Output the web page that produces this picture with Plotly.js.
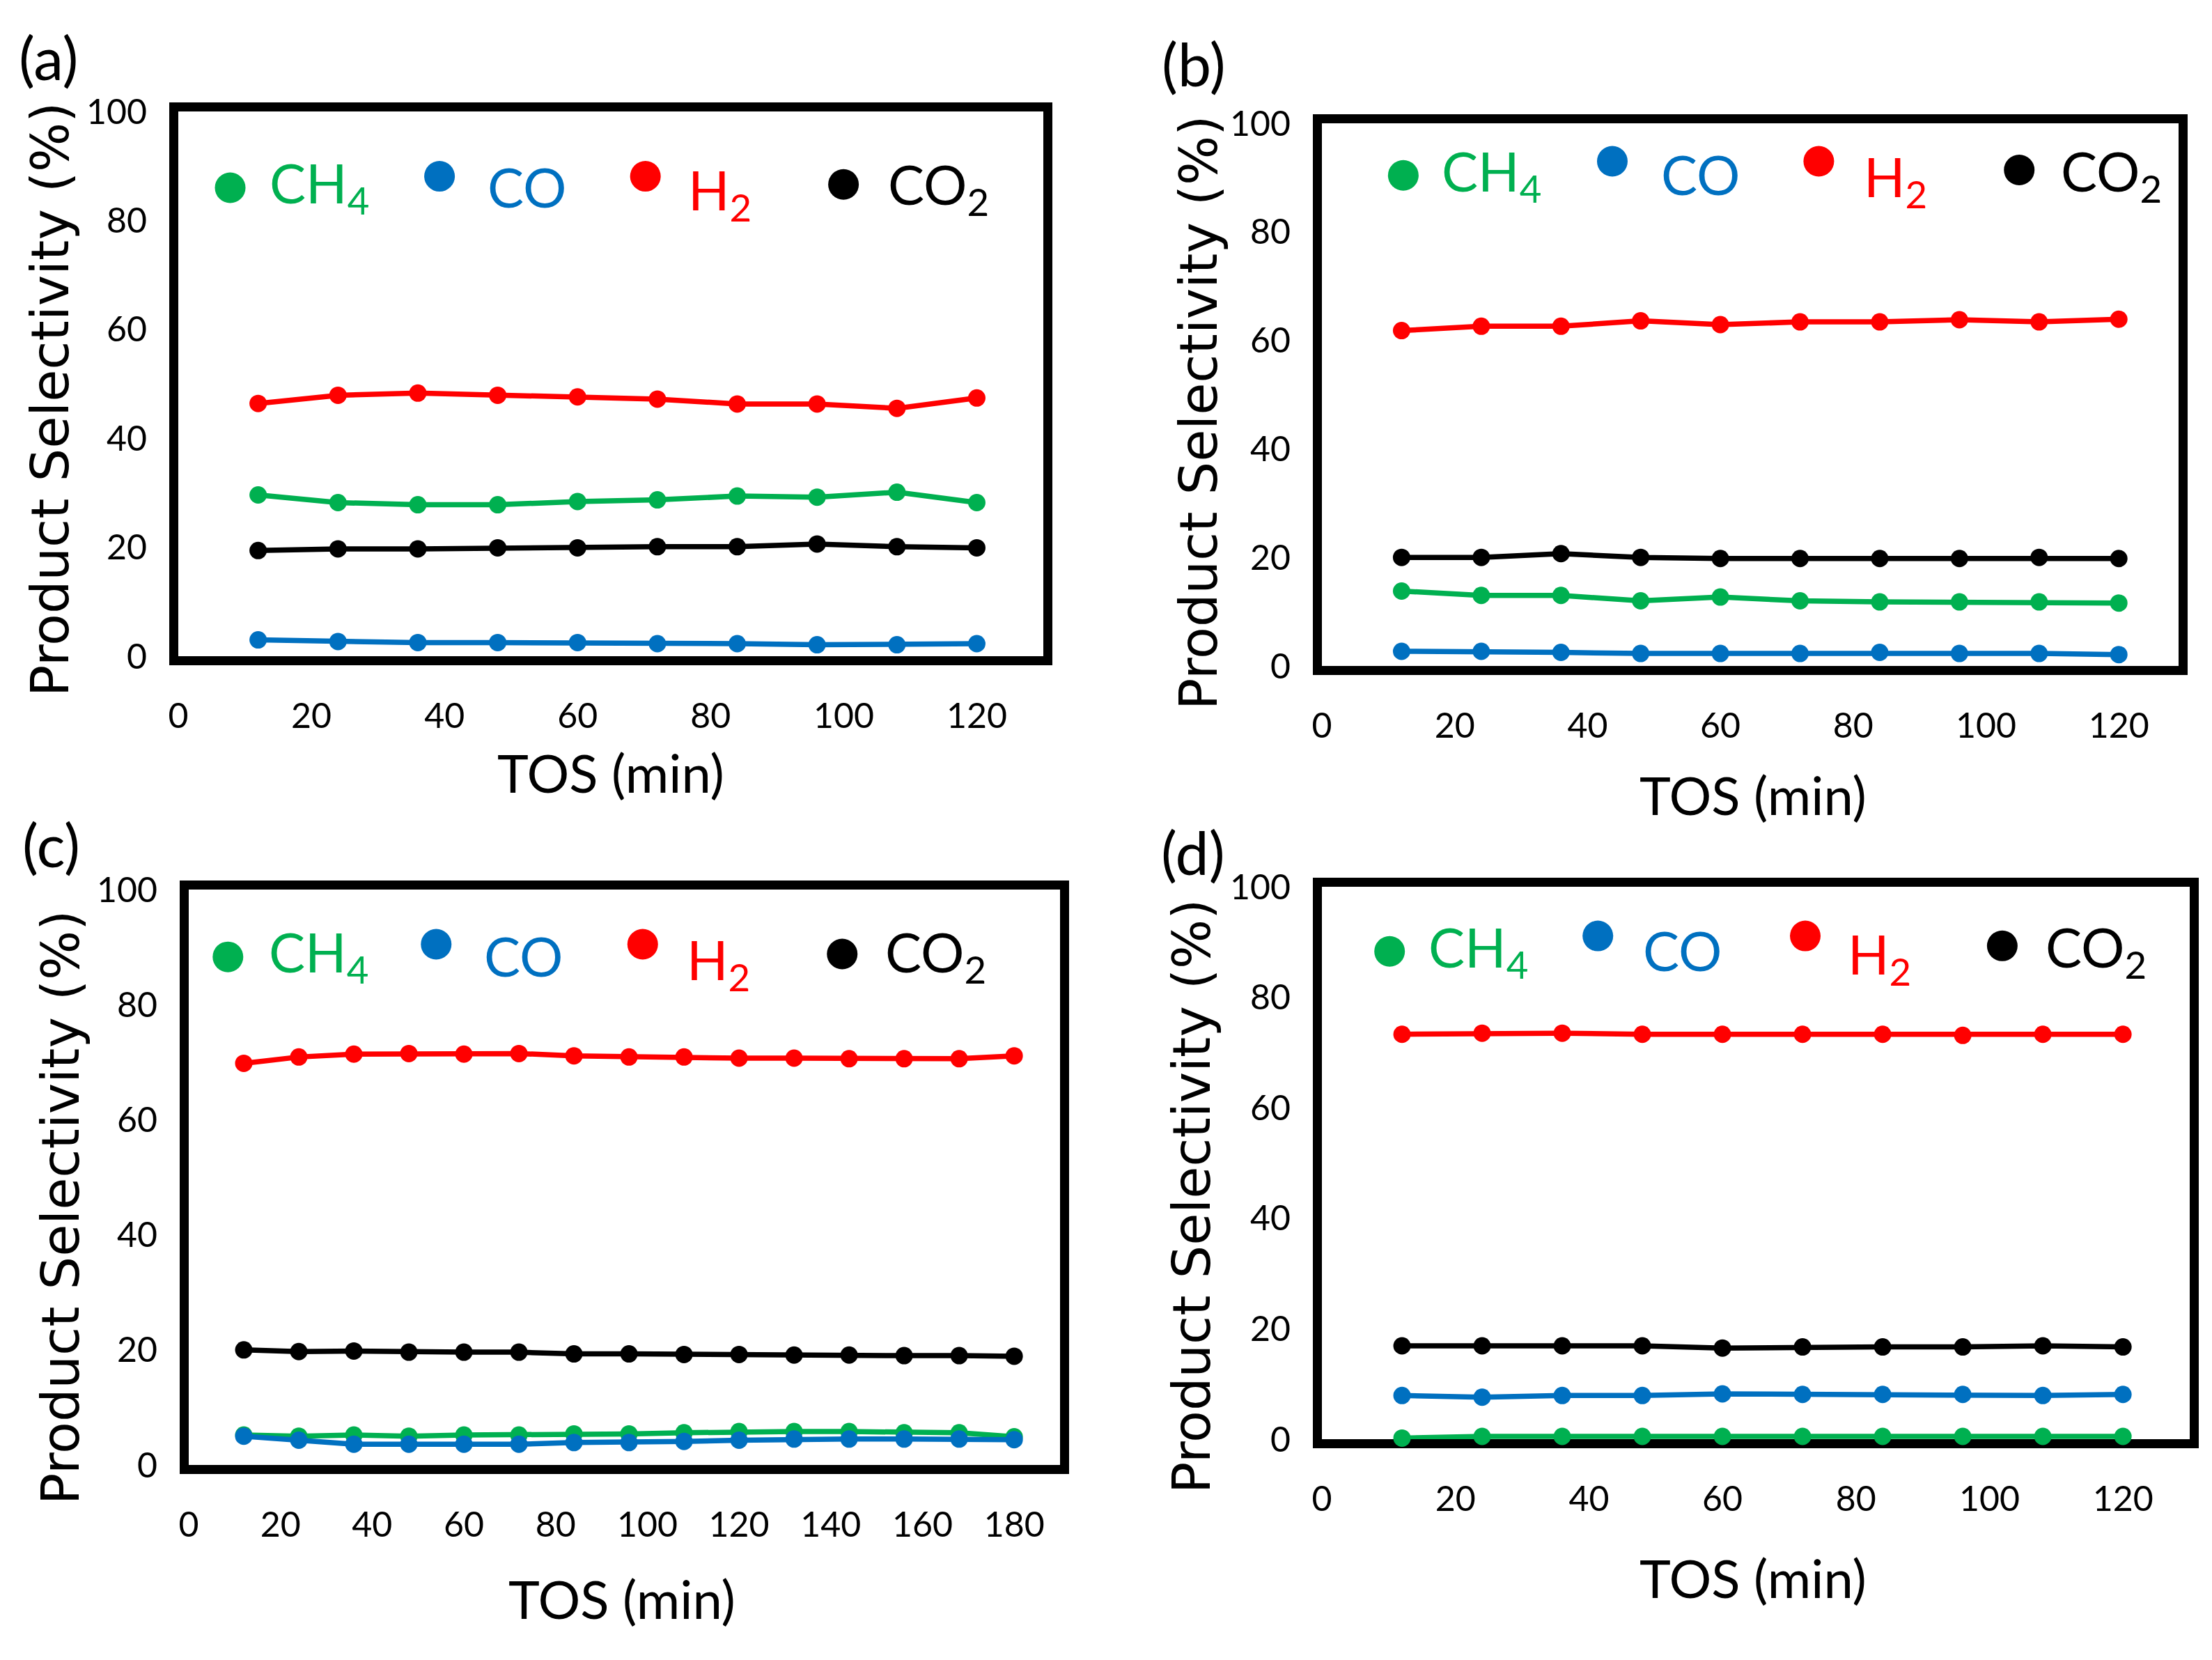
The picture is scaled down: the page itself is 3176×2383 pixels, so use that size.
<!DOCTYPE html>
<html><head><meta charset="utf-8">
<script src="https://cdn.plot.ly/plotly-3.0.1.min.js"></script>
<style>html,body{margin:0;padding:0;background:#fff}#chart{width:3176px;height:2383px}</style>
</head><body><div id="chart"></div>
<script>
// ---- data ----
const tos120 = [12, 24, 36, 48, 60, 72, 84, 96, 108, 120];
const tos180 = [12, 24, 36, 48, 60, 72, 84, 96, 108, 120, 132, 144, 156, 168, 180];
const xTicks120 = [0, 20, 40, 60, 80, 100, 120];
const xTicks180 = [0, 20, 40, 60, 80, 100, 120, 140, 160, 180];
const yTicks = [0, 20, 40, 60, 80, 100];
const seriesNames = ['CH<sub>4</sub>', 'CO', 'H<sub>2</sub>', 'CO<sub>2</sub>'];
const xTitle = 'TOS (min)';
const yTitle = 'Product Selectivity (%)';

const aCH4 = [29.6, 28.2, 27.8, 27.8, 28.4, 28.7, 29.4, 29.2, 30.1, 28.2];
const aCO  = [3.0, 2.7, 2.5, 2.5, 2.5, 2.3, 2.3, 2.1, 2.1, 2.3];
const aH2  = [46.4, 47.9, 48.3, 47.9, 47.6, 47.2, 46.3, 46.3, 45.5, 47.4];
const aCO2 = [19.4, 19.7, 19.7, 19.9, 19.9, 20.1, 20.1, 20.6, 20.1, 19.9];

const bCH4 = [13.8, 13.0, 13.0, 12.0, 12.7, 12.0, 11.8, 11.8, 11.8, 11.6];
const bCO  = [2.7, 2.7, 2.5, 2.3, 2.3, 2.3, 2.5, 2.3, 2.3, 2.1];
const bH2  = [61.8, 62.6, 62.6, 63.6, 62.9, 63.4, 63.4, 63.8, 63.4, 63.9];
const bCO2 = [20.0, 20.0, 20.7, 20.0, 19.8, 19.8, 19.8, 19.8, 20.0, 19.8];

const cCH4 = [5.2, 5.0, 5.2, 5.0, 5.2, 5.2, 5.4, 5.4, 5.6, 5.8, 5.8, 5.8, 5.6, 5.6, 4.9];
const cCO  = [5.0, 4.3, 3.6, 3.6, 3.6, 3.6, 3.9, 3.9, 4.1, 4.3, 4.5, 4.5, 4.5, 4.5, 4.4];
const cH2  = [69.8, 70.9, 71.4, 71.5, 71.4, 71.5, 71.1, 70.9, 70.9, 70.7, 70.7, 70.6, 70.6, 70.6, 71.1];
const cCO2 = [20.0, 19.7, 19.8, 19.6, 19.6, 19.6, 19.3, 19.3, 19.2, 19.2, 19.1, 19.1, 19.0, 19.0, 18.9];

const dCH4 = [0.2, 0.5, 0.5, 0.5, 0.5, 0.5, 0.5, 0.5, 0.5, 0.5];
const dCO  = [7.9, 7.6, 7.9, 7.9, 8.2, 8.1, 8.1, 8.1, 7.9, 8.1];
const dH2  = [73.3, 73.5, 73.5, 73.3, 73.3, 73.3, 73.3, 73.1, 73.3, 73.3];
const dCO2 = [16.9, 16.9, 16.9, 16.9, 16.5, 16.7, 16.7, 16.7, 16.9, 16.7];

// ---- styling ----
const colors = ['#00B050', '#0070C0', '#FF0000', '#000000'];
const narrow = 'Lato, "Open Sans", sans-serif';
const wide = '"DejaVu Sans", Verdana, sans-serif';
const W = 3176, H = 2383;

// pixel frames (left, right, top, bottom) and text anchor positions, in page pixels
const panels = [
  {label:'(a)', x: tos120, ys:[aCH4,aCO,aH2,aCO2], xr:[0,130], xt:xTicks120,
   frame:[256,1498,160,942], lab:[70,82], xt_c:[877,1108], yt_c:[72,574],
   dots:[[0.060,0.860],[0.302,0.881],[0.540,0.881],[0.769,0.866]],
   texts:[[0.104,0.862],[0.356,0.862],[0.588,0.850],[0.819,0.860]]},
  {label:'(b)', x: tos120, ys:[bCH4,bCO,bH2,bCO2], xr:[0,129], xt:xTicks120,
   frame:[1898,3128,177,956], lab:[1714,90], xt_c:[2517,1140], yt_c:[1721,592],
   dots:[[0.095,0.904],[0.339,0.930],[0.580,0.930],[0.814,0.914]],
   texts:[[0.138,0.906],[0.394,0.906],[0.631,0.895],[0.861,0.906]]},
  {label:'(c)', x: tos180, ys:[cCH4,cCO,cH2,cCO2], xr:[0,190], xt:xTicks180,
   frame:[271,1522,1277,2103], lab:[73,1211], xt_c:[893,2294], yt_c:[87,1734],
   dots:[[0.045,0.883],[0.284,0.905],[0.521,0.905],[0.750,0.888]],
   texts:[[0.090,0.885],[0.337,0.885],[0.570,0.872],[0.798,0.885]]},
  {label:'(d)', x: tos120, ys:[dCH4,dCO,dH2,dCO2], xr:[0,130], xt:xTicks120,
   frame:[1898,3144,1273,2066], lab:[1713,1222], xt_c:[2517,2264], yt_c:[1711,1718],
   dots:[[0.078,0.883],[0.318,0.911],[0.557,0.911],[0.784,0.893]],
   texts:[[0.121,0.885],[0.368,0.885],[0.604,0.872],[0.832,0.885]]}
];

const traces = [];
const layout = {
  width: W, height: H,
  margin: {l:0, r:0, t:0, b:0},
  paper_bgcolor: '#fff', plot_bgcolor: '#fff',
  showlegend: false,
  shapes: [], annotations: []
};

panels.forEach((p, i) => {
  const n = i === 0 ? '' : String(i + 1);
  const xa = 'x' + n, ya = 'y' + n;
  const f = p.frame;
  p.ys.forEach((ys, k) => {
    traces.push({
      x: p.x, y: ys, xaxis: xa, yaxis: ya,
      type: 'scatter', mode: 'lines+markers', name: seriesNames[k],
      line: {color: colors[k], width: 7.5},
      marker: {color: colors[k], size: 25},
      cliponaxis: false, hoverinfo: 'skip'
    });
  });
  layout['xaxis' + n] = {
    domain: [f[0] / W, f[1] / W], anchor: ya, range: p.xr,
    tickvals: p.xt, ticktext: p.xt.map(String),
    showgrid: false, zeroline: false,
    showline: true, mirror: true, linecolor: '#000', linewidth: 13,
    ticks: 'outside', ticklen: 30, tickcolor: 'rgba(0,0,0,0)',
    tickfont: {family: narrow, size: 50, color: '#000'},
    layer: 'below traces'
  };
  layout['yaxis' + n] = {
    domain: [1 - f[3] / H, 1 - f[2] / H], anchor: xa, range: [0, 100],
    tickvals: yTicks, ticktext: yTicks.map(String),
    showgrid: false, zeroline: false,
    showline: true, mirror: true, linecolor: '#000', linewidth: 13,
    ticks: 'outside', ticklen: 22, tickcolor: 'rgba(0,0,0,0)',
    tickfont: {family: narrow, size: 50, color: '#000'},
    layer: 'below traces'
  };
  // axis titles
  layout.annotations.push({
    xref: 'paper', yref: 'paper', x: p.xt_c[0] / W, y: 1 - p.xt_c[1] / H,
    xanchor: 'center', yanchor: 'middle', showarrow: false,
    text: xTitle, font: {family: narrow, size: 76, color: '#000'}
  });
  layout.annotations.push({
    xref: 'paper', yref: 'paper', x: p.yt_c[0] / W, y: 1 - p.yt_c[1] / H,
    xanchor: 'center', yanchor: 'middle', showarrow: false, textangle: -90,
    text: yTitle, font: {family: wide, size: 75, color: '#000'}
  });
  // panel label
  layout.annotations.push({
    xref: 'paper', yref: 'paper', x: p.lab[0] / W, y: 1 - p.lab[1] / H,
    xanchor: 'center', yanchor: 'middle', showarrow: false,
    text: p.label, font: {family: narrow, size: 86, color: '#000'}
  });
  // in-plot legend
  p.dots.forEach((d, k) => {
    layout.shapes.push({
      type: 'circle', xref: xa + ' domain', yref: ya + ' domain',
      xsizemode: 'pixel', ysizemode: 'pixel', xanchor: d[0], yanchor: d[1],
      x0: -22, x1: 22, y0: -22, y1: 22,
      fillcolor: colors[k], line: {width: 0}
    });
    layout.annotations.push({
      xref: xa + ' domain', yref: ya + ' domain', x: p.texts[k][0], y: p.texts[k][1],
      xanchor: 'left', yanchor: 'middle', showarrow: false,
      text: seriesNames[k], font: {family: narrow, size: 78, color: colors[k]}
    });
  });
});

Plotly.newPlot('chart', traces, layout, {staticPlot: true});
</script>
</body></html>
